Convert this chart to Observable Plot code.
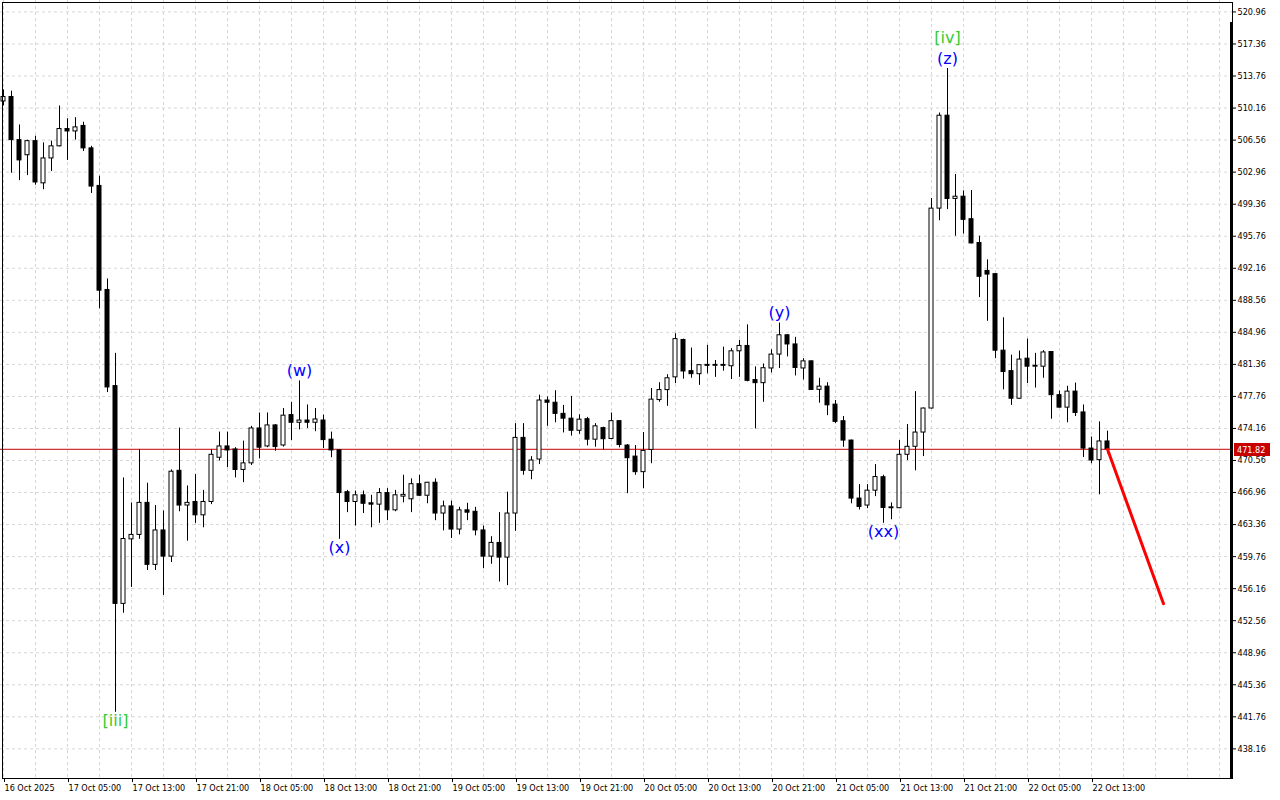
<!DOCTYPE html>
<html><head><meta charset="utf-8">
<script src="https://cdn.jsdelivr.net/npm/d3@7"></script>
<script src="https://cdn.jsdelivr.net/npm/@observablehq/plot@0.6"></script>
<style>
html,body{margin:0;padding:0;background:#fff;}
#chart svg{display:block;}
</style></head><body><div id="chart"></div>
<script>
// Hourly candles, bar 0 = 16 Oct 2025 21:00
const opens = [510.9,511.4,506.56,504.86,506.44,501.7,504.5,505.86,507.8,507.53,508.15,505.63,501.41,489.72,478.92,454.45,461.7,462.2,465.8,458.83,
462.7,459.76,469.4,465.5,465.9,464.4,465.9,470.87,472.14,471.8,469.5,470.24,474.16,472.14,474.5,472.25,475.66,474.8,475.05,474.8,
475.05,472.9,471.7,467.0,465.9,466.65,465.75,465.6,466.9,464.96,466.5,466.2,467.9,466.6,468.06,464.6,465.4,462.8,464.96,464.8,
462.7,459.76,461.3,459.65,464.6,473.1,469.4,470.67,477.3,477.05,475.8,475.26,473.9,475.2,472.9,474.2,472.98,474.98,472.24,471.0,
469.25,471.75,477.35,478.47,479.9,484.1,480.6,480.26,481.3,481.2,481.3,481.15,482.83,483.43,479.6,479.25,480.9,482.46,484.63,483.6,
480.9,481.7,478.5,478.86,476.84,474.97,472.8,466.28,465.5,467.17,468.68,465.2,465.2,471.2,472.1,473.7,476.4,498.86,509.3,499.95,
500.2,497.67,495.0,491.86,491.5,482.9,480.6,477.5,482.0,481.1,481.1,482.75,477.9,476.5,478.3,475.96,471.9,470.6,472.7];
const highs = [512.2,512.06,508.26,506.56,507.0,506.25,506.44,510.39,508.96,509.08,508.57,505.86,502.5,490.96,482.6,468.6,465.8,471.8,468.0,465.5,
464.9,469.5,474.2,467.7,469.0,467.2,471.8,473.75,473.75,472.0,472.74,474.4,475.9,475.9,474.6,476.4,477.1,479.5,476.8,476.4,
475.66,473.75,471.75,467.2,467.13,467.13,466.65,467.4,467.4,467.2,468.9,468.5,468.9,468.1,468.5,466.0,466.0,465.3,465.75,465.3,
463.2,462.0,464.7,467.0,474.7,474.7,471.0,477.9,477.7,478.4,476.75,477.76,475.7,475.4,474.7,474.3,475.9,475.0,472.35,472.24,
473.7,478.65,479.3,480.2,484.8,484.2,483.2,481.3,483.5,481.8,483.3,483.13,484.06,485.8,481.08,481.4,483.0,486.0,484.7,484.4,
482.0,481.75,479.8,479.3,477.3,475.5,472.85,467.85,467.85,470.1,468.9,465.8,472.8,474.6,478.3,476.45,500.0,509.6,514.6,502.7,
500.86,500.9,495.76,493.1,491.55,486.6,482.4,482.86,484.2,482.6,482.9,482.8,478.36,478.9,479.26,476.8,473.2,474.9,473.86];
const lows = [510.4,502.84,502.0,502.57,501.5,500.99,503.04,505.8,504.28,506.56,505.28,500.56,487.6,478.19,442.27,453.4,456.3,461.7,458.2,458.2,
455.4,459.1,464.8,461.5,463.5,463.0,465.6,470.5,469.75,468.6,468.07,470.0,470.76,472.0,471.6,472.07,472.8,474.0,474.16,473.8,
471.9,470.87,461.7,464.7,463.2,464.6,463.0,463.5,463.8,464.8,465.8,464.7,466.5,465.7,463.8,462.65,461.8,462.2,463.8,462.1,
458.4,458.9,456.9,456.5,462.6,468.9,468.4,470.1,474.4,474.8,473.66,473.3,473.5,472.2,472.05,471.75,472.9,471.98,466.83,468.9,
467.4,470.2,477.1,476.65,479.2,479.7,479.8,479.0,480.3,479.9,480.6,479.66,479.9,479.4,474.1,477.1,480.4,480.9,482.2,480.06,
479.6,478.45,477.0,475.6,474.7,472.05,465.7,465.0,465.15,466.5,463.5,463.9,465.15,470.55,469.4,471.0,476.35,497.5,498.75,495.76,
496.0,494.9,488.86,486.2,482.0,478.5,476.75,477.45,479.2,478.7,479.8,475.2,476.45,474.8,475.5,470.9,470.2,466.7,471.3];
const closes = [511.4,506.56,504.28,506.44,501.8,504.5,505.86,507.8,507.53,507.99,505.63,501.34,489.64,478.77,454.45,461.74,462.2,465.8,458.83,462.7,
459.76,469.3,465.5,465.8,464.4,465.9,471.2,472.14,471.69,469.5,470.24,474.16,472.0,474.5,472.07,475.6,474.8,475.05,474.8,475.17,
472.85,471.69,466.9,465.9,466.65,465.7,465.6,466.9,464.96,466.65,466.7,467.9,466.6,468.06,464.6,465.4,462.8,464.96,464.7,462.7,
459.76,461.3,459.65,464.6,473.1,469.4,470.56,477.3,477.05,475.8,475.26,473.9,475.15,472.9,474.4,472.95,474.98,472.3,470.82,469.25,
471.64,477.4,478.47,479.8,484.2,480.56,480.26,481.27,481.2,481.3,481.2,482.83,483.43,479.51,479.25,480.93,482.46,484.63,483.6,480.96,
481.7,478.49,478.86,476.76,474.9,472.8,466.28,465.34,467.17,468.7,465.23,465.3,471.2,472.1,473.7,476.4,498.86,509.3,499.94,500.2,
497.6,494.95,491.2,491.45,482.9,480.5,477.5,481.9,481.1,481.2,482.7,477.9,476.5,478.3,475.9,471.9,470.56,472.7,471.82];

const timeTickBars = [0,8,16,24,32,40,48,56,64,72,80,88,96,104,112,120,128,136];
const timeLabels = ["16 Oct 2025","17 Oct 05:00","17 Oct 13:00","17 Oct 21:00","18 Oct 05:00","18 Oct 13:00","18 Oct 21:00",
  "19 Oct 05:00","19 Oct 13:00","19 Oct 21:00","20 Oct 05:00","20 Oct 13:00","20 Oct 21:00","21 Oct 05:00","21 Oct 13:00",
  "21 Oct 21:00","22 Oct 05:00","22 Oct 13:00"];
const priceTicks = [438.16,441.76,445.36,448.96,452.56,456.16,459.76,463.36,466.96,470.56,474.16,477.76,481.36,484.96,488.56,
  492.16,495.76,499.36,502.96,506.56,510.16,513.76,517.36,520.96];
const lastPrice = 471.82;
const forecastBars = [138, 145];
const forecastPrices = [471.82, 454.47];
const waveText   = ["[iii]","(w)","(x)","(y)","(xx)","(z)","[iv]"];
const waveBar    = [14, 37, 42, 97, 110, 118, 118];
const waveSide   = ["low","high","low","high","low","high","high"];
const waveDegree = ["minor","minute","minute","minute","minute","minute","minor"];

// tables built from the arrays
const candles = opens.map((o, i) => ({i, open: o, high: highs[i], low: lows[i], close: closes[i]}));
const forecast = forecastBars.map((b, k) => ({i: b, price: forecastPrices[k]}));
const waves = waveText.map((t, k) => {
  const level = waveText.slice(0, k).filter((_, j) => waveBar[j] === waveBar[k] && waveSide[j] === waveSide[k]).length;
  return {text: t, i: waveBar[k], side: waveSide[k], degree: waveDegree[k], level,
          price: waveSide[k] === "high" ? highs[waveBar[k]] : lows[waveBar[k]]};
});

const axisFont = "'DejaVu Sans Condensed','DejaVu Sans',sans-serif";
const gridStyle = {stroke: "#d6d6d6", strokeOpacity: 1, strokeDasharray: "3,3"};
const gridBars = d3.range(0, 154, 4);

const waveMarks = waves.map(w => Plot.text([w], {
  x: "i", y: "price", text: "text",
  fill: w.degree === "minor" ? "#32cd32" : "#0000ff",
  fontSize: 16, fontFamily: "'DejaVu Sans',sans-serif",
  lineAnchor: "middle",
  dy: w.side === "high" ? -10 - 21 * w.level : 9 + 21 * w.level
}));

const chart = Plot.plot({
  width: 1280, height: 800,
  marginLeft: 0, marginRight: 48, marginTop: 0, marginBottom: 22,
  style: {fontFamily: axisFont, fontSize: "9px", background: "#fff", color: "#000"},
  x: {domain: [-0.375, 153.625], label: null},
  y: {domain: [434.83, 522.245], label: null},
  marks: [
    Plot.gridY(priceTicks, gridStyle),
    Plot.gridX(gridBars, gridStyle),
    Plot.ruleY([lastPrice], {stroke: "#c80000", strokeWidth: 1}),
    Plot.ruleX(candles, {x: "i", y1: "low", y2: "high", stroke: "#000", strokeWidth: 1}),
    Plot.rect(candles.filter(d => d.close >= d.open), {x1: d => d.i - 0.25, x2: d => d.i + 0.25, y1: "open", y2: "close", fill: "#fff", stroke: "#000", strokeWidth: 1}),
    Plot.rect(candles.filter(d => d.close < d.open), {x1: d => d.i - 0.25, x2: d => d.i + 0.25, y1: "open", y2: "close", fill: "#000", stroke: "#000", strokeWidth: 1}),
    Plot.line(forecast, {x: "i", y: "price", stroke: "#ff0000", strokeWidth: 3}),
    ...waveMarks,
    Plot.frame({stroke: "#000", insetLeft: 2, insetTop: 2}),
    Plot.axisY({anchor: "right", label: null, ticks: priceTicks, tickFormat: d => d.toFixed(2), tickSize: 3, tickPadding: 2, fontSize: 9, fontFamily: axisFont}),
    Plot.axisX({anchor: "bottom", label: null, ticks: timeTickBars, tickFormat: b => timeLabels[timeTickBars.indexOf(b)], tickSize: 4, tickPadding: 2, textAnchor: "start", dx: 1, fontSize: 9, fontFamily: axisFont})
  ]
});
document.getElementById("chart").appendChild(chart);

// decorations: thick right border and last price badge
const svg = d3.select(chart);
const ys = chart.scale("y");
svg.append("line").attr("x1", 1231.5).attr("x2", 1231.5).attr("y1", 22).attr("y2", 779)
  .attr("stroke", "#000").attr("stroke-width", 3);
const yp = ys.apply(lastPrice);
const badge = svg.append("g");
badge.append("rect").attr("x", 1234).attr("y", Math.round(yp) - 6).attr("width", 36).attr("height", 13).attr("fill", "#c80000");
badge.append("text").attr("x", 1237).attr("y", Math.round(yp) + 0.5).attr("dy", "0.35em")
  .attr("text-anchor", "start").attr("fill", "#fff")
  .attr("font-family", axisFont).attr("font-size", 9).text(lastPrice.toFixed(2));
</script></body></html>
